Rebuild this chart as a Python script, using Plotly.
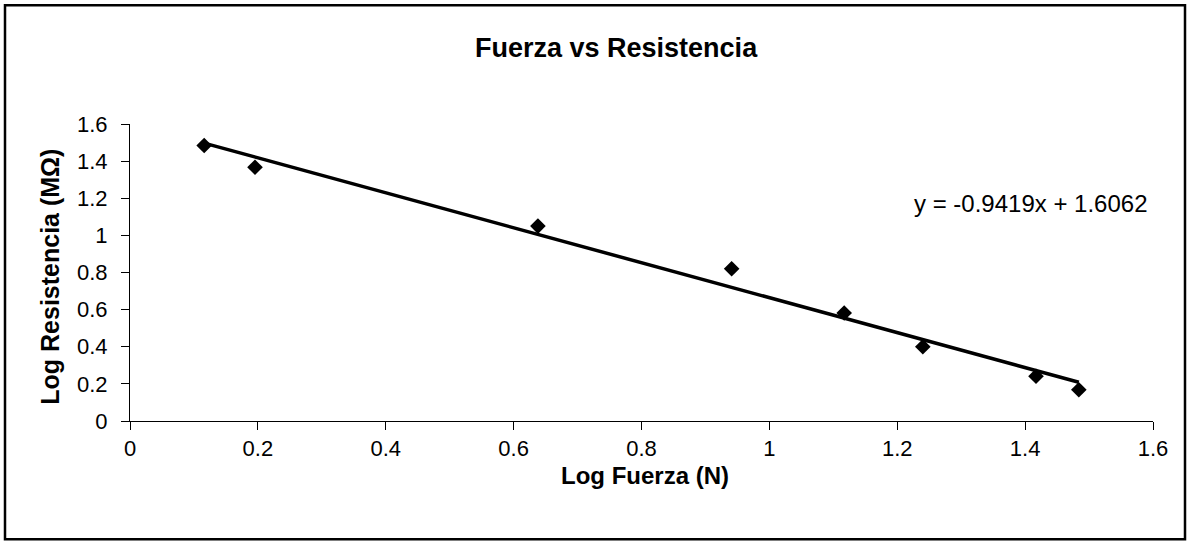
import plotly.graph_objects as go

# Measured data (log10 of force in N, log10 of resistance in MOhm)
log_fuerza = [0.116, 0.1955, 0.638, 0.941, 1.117, 1.240, 1.417, 1.484]
log_resistencia = [1.484, 1.367, 1.050, 0.820, 0.582, 0.400, 0.241, 0.168]

# Linear trend line coefficients
slope = -0.9419
intercept = 1.6062

x_ticks = [0, 0.2, 0.4, 0.6, 0.8, 1.0, 1.2, 1.4, 1.6]
y_ticks = [0, 0.2, 0.4, 0.6, 0.8, 1.0, 1.2, 1.4, 1.6]

W, H = 1188, 544
ML, MR, MT, MB = 130, 35, 124, 122.5
PW, PH = W - ML - MR, H - MT - MB

trend_x = [min(log_fuerza), max(log_fuerza)]
trend_y = [slope * v + intercept for v in trend_x]

font_family = "Liberation Sans, Arial, sans-serif"

fig = go.Figure()
fig.add_trace(go.Scatter(
    x=trend_x, y=trend_y, mode="lines",
    line=dict(color="black", width=3.5),
    hoverinfo="skip", showlegend=False,
))
fig.add_trace(go.Scatter(
    x=log_fuerza, y=log_resistencia, mode="markers",
    marker=dict(symbol="diamond", size=12, color="black"),
    showlegend=False,
))


def px_x(p):
    return (p - ML) / PW


def px_y(p):
    return (H - MB - p) / PH


fig.update_layout(
    width=W, height=H,
    margin=dict(l=ML, r=MR, t=MT, b=MB),
    paper_bgcolor="white", plot_bgcolor="white",
    font=dict(family=font_family, size=22, color="black"),
    xaxis=dict(
        range=[0, 1.6], tickvals=x_ticks, showgrid=False, zeroline=False,
        showline=True, linecolor="black", linewidth=1,
        ticks="outside", ticklen=8, tickcolor="black", tickwidth=1,
        tickfont=dict(size=22), ticklabelstandoff=0, fixedrange=True,
    ),
    yaxis=dict(
        range=[0, 1.6], tickvals=y_ticks, showgrid=False, zeroline=False,
        showline=True, linecolor="black", linewidth=1,
        ticks="outside", ticklen=8, tickcolor="black", tickwidth=1,
        tickfont=dict(size=22), ticklabelstandoff=9, fixedrange=True,
    ),
    annotations=[
        dict(text="<b>Fuerza vs Resistencia</b>", xref="paper", yref="paper",
             x=px_x(616), y=px_y(48), xanchor="center", yanchor="middle",
             showarrow=False, font=dict(size=27)),
        dict(text="<b>Log Fuerza (N)</b>", xref="paper", yref="paper",
             x=px_x(645), y=px_y(476), xanchor="center", yanchor="middle",
             showarrow=False, font=dict(size=24)),
        dict(text="<b>Log Resistencia (MΩ)</b>", xref="paper", yref="paper",
             x=px_x(50), y=px_y(277), xanchor="center", yanchor="middle",
             textangle=-90, showarrow=False, font=dict(size=25)),
        dict(text=f"y = {slope}x + {intercept}", xref="paper", yref="paper",
             x=px_x(1150), y=px_y(204), xanchor="right", yanchor="middle",
             showarrow=False, font=dict(size=24)),
    ],
    shapes=[
        dict(type="rect", xref="paper", yref="paper",
             x0=px_x(5), x1=px_x(1185), y0=px_y(540), y1=px_y(5),
             line=dict(color="black", width=2.5), layer="above"),
    ],
)

fig.write_html("out.html")
